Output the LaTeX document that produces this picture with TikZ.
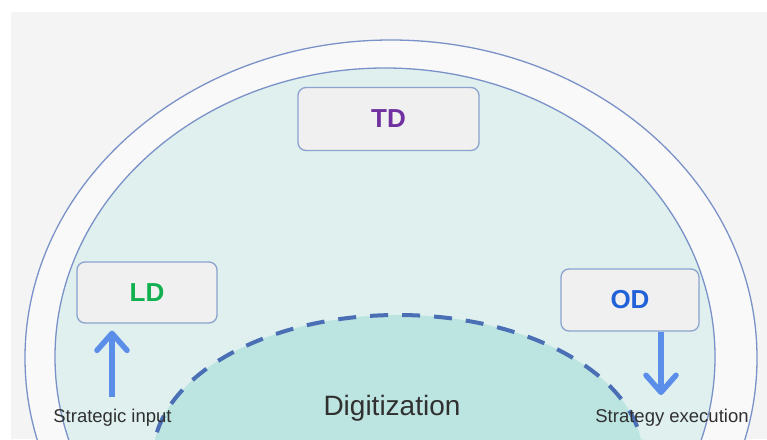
\documentclass[tikz,border=0pt]{standalone}
\usepackage{fontspec}
\setmainfont{Liberation Sans}
\usetikzlibrary{arrows.meta}
\definecolor{panelgray}{HTML}{F4F4F4}
\definecolor{ringfill}{HTML}{F9F9F9}
\definecolor{innerfill}{HTML}{DFF0EF}
\definecolor{digifill}{HTML}{BCE4E0}
\definecolor{ringline}{HTML}{7A92C8}
\definecolor{dashcol}{HTML}{4A6FB5}
\definecolor{boxfill}{HTML}{F0F0F0}
\definecolor{boxline}{HTML}{8CA2CE}
\definecolor{tdcol}{HTML}{7030A0}
\definecolor{ldcol}{HTML}{10B050}
\definecolor{odcol}{HTML}{2262D8}
\definecolor{arrowcol}{HTML}{5A8EE8}
\definecolor{txtcol}{HTML}{303030}
\tikzset{
  ringstroke/.style={draw=ringline, line width=1.3pt},
  digistroke/.style={draw=dashcol, line width=4pt, dash pattern=on 18pt off 14pt},
  labelbox/.style={draw=boxline, fill=boxfill, line width=1.3pt, rounded corners=8pt,
    inner sep=0pt, font=\bfseries\fontsize{26}{30}\selectfont},
  smalltext/.style={text=txtcol, inner sep=0pt, anchor=base, font=\fontsize{18.5}{22}\selectfont},
  bigtext/.style={text=txtcol, inner sep=0pt, anchor=base, font=\fontsize{28}{34}\selectfont},
  bigarrow/.style={draw=arrowcol, line width=5.5pt,
    -{Straight Barb[length=17pt, width=30pt, round]}}
}
\begin{document}
\begin{tikzpicture}[x=1pt,y=-1pt]
\useasboundingbox (0,0) rectangle (767,439);
\fill[white] (0,0) rectangle (767,439);
\fill[panelgray] (11,12) rectangle (767,439);
\begin{scope}
  \clip (11,12) rectangle (767,439);
  \path[ringstroke, fill=ringfill] (391,358) ellipse [x radius=366pt, y radius=318pt];
  \path[ringstroke, fill=innerfill] (385,357) ellipse [x radius=330pt, y radius=289pt];
  \path[digistroke, fill=digifill] (398,458) ellipse [x radius=245pt, y radius=143pt];
\end{scope}

\node[labelbox, minimum width=181pt, minimum height=63pt, text=tdcol] (TD) at (388.5,119) {TD};
\node[labelbox, minimum width=140pt, minimum height=61pt, text=ldcol] (LD) at (147,292.5) {LD};
\node[labelbox, minimum width=138pt, minimum height=62pt, text=odcol] (OD) at (630,300) {OD};

\node[bigtext] (DG) at (392,415) {Digitization};
\node[smalltext] (SI) at (112.5,422) {Strategic input};
\node[smalltext] (SE) at (672,422) {Strategy execution};

\coordinate (siTail) at (112,397);
\coordinate (seTip) at (661,395);
\draw[bigarrow, shorten >=7pt] (siTail) -- (siTail |- LD.south);
\draw[bigarrow, shorten <=0.7pt] (OD.south -| seTip) -- (seTip);
\end{tikzpicture}
\end{document}
